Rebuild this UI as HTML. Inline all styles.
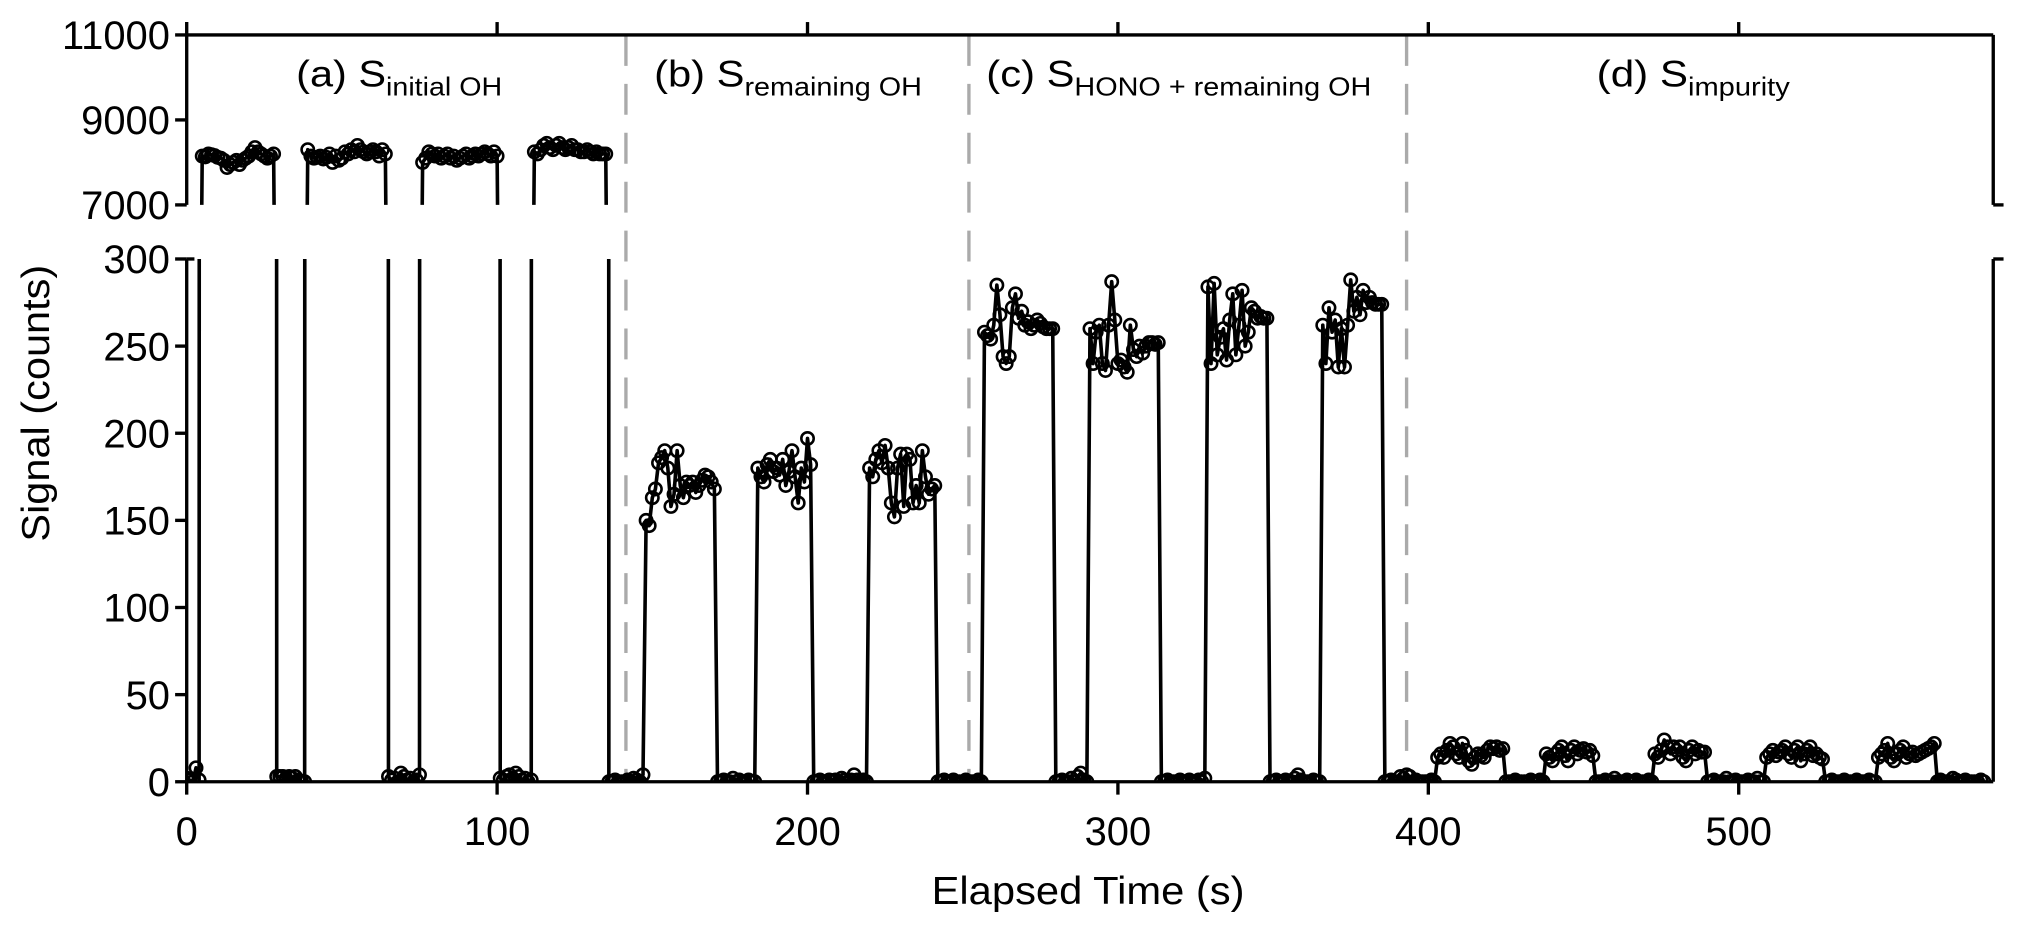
<!DOCTYPE html>
<html><head><meta charset="utf-8"><style>
html,body{margin:0;padding:0;background:#fff;}
svg{display:block;font-family:"Liberation Sans",Arial,sans-serif;}
</style></head><body>
<svg id="chart" width="2019" height="930" viewBox="0 0 1568 722" xmlns="http://www.w3.org/2000/svg">
<defs>
<clipPath id="clipTop"><rect x="145" y="27" width="1403" height="132"/></clipPath>
<clipPath id="clipBot"><rect x="145" y="201" width="1403" height="406"/></clipPath>
</defs>
<g id="dividers"></g>
<g id="seriesTop" clip-path="url(#clipTop)"></g>
<g id="seriesBot" clip-path="url(#clipBot)"></g>
<g id="axes" stroke="#000" stroke-width="2.6" fill="none"></g>
<g id="labels" font-size="31" fill="#000"></g>
<text x="845" y="702" font-size="30" text-anchor="middle" textLength="243" lengthAdjust="spacingAndGlyphs">Elapsed Time (s)</text>
<text transform="translate(38,313) rotate(-90)" font-size="30" text-anchor="middle" textLength="215" lengthAdjust="spacingAndGlyphs">Signal (counts)</text>
<text x="230" y="67" font-size="29" textLength="160" lengthAdjust="spacingAndGlyphs">(a) S<tspan font-size="20" dy="7">initial OH</tspan></text>
<text x="508" y="67" font-size="29" textLength="208" lengthAdjust="spacingAndGlyphs">(b) S<tspan font-size="20" dy="7">remaining OH</tspan></text>
<text x="766" y="67" font-size="29" textLength="299" lengthAdjust="spacingAndGlyphs">(c) S<tspan font-size="20" dy="7">HONO + remaining OH</tspan></text>
<text x="1240" y="67" font-size="29" textLength="150" lengthAdjust="spacingAndGlyphs">(d) S<tspan font-size="20" dy="7">impurity</tspan></text>
</svg>
<script>
// data: blocks of 1-second samples, each block starting at blockStarts[i]
const blockStarts = [0,5,29,39,65,76,101,112,136,148,171,184,202,220,242,257,280,291,314,329,349,366,386,403,425,438,454,473,490,509,528,545,564];
const blockValues = [
[2,1,0,8,1],
[8150,8130,8200,8180,8160,8120,8100,8050,7880,7950,8000,8050,7950,8050,8100,8150,8250,8350,8250,8200,8150,8100,8150,8200],
[3,3,3,2,3,2,3,1,0,0],
[8300,8150,8100,8120,8150,8080,8120,8200,8000,8150,8050,8100,8250,8200,8300,8250,8400,8300,8250,8200,8250,8300,8250,8150,8300,8200],
[3,1,2,0,5,3,1,2,0,1,4],
[8000,8100,8250,8200,8150,8200,8100,8150,8200,8100,8150,8050,8100,8150,8200,8100,8150,8200,8150,8200,8250,8200,8150,8250,8150],
[2,1,3,4,2,5,3,1,2,0,1],
[8250,8200,8300,8400,8450,8350,8300,8400,8450,8350,8300,8350,8400,8300,8300,8250,8250,8300,8250,8200,8250,8200,8200,8200],
[0,0,1,0,0,0,1,0,2,1,0,4],
[150,147,163,168,183,186,190,180,158,165,190,170,163,172,170,172,166,170,173,176,175,172,168],
[0,0,1,0,0,2,0,1,0,0,1,0,0],
[180,175,172,182,185,178,180,176,185,170,178,190,175,160,180,172,197,182],
[0,0,1,0,0,1,0,1,0,2,1,0,1,4,1,0,1,0],
[180,175,185,190,183,193,180,160,152,180,188,158,188,185,160,170,160,190,175,165,168,170],
[0,0,1,0,0,1,0,0,0,1,0,0,0,1,0],
[258,256,254,262,285,268,244,240,244,272,280,266,270,262,264,260,262,265,263,261,260,260,260],
[0,0,1,0,0,2,0,3,5,1,0],
[260,240,258,262,240,236,262,287,265,240,242,238,235,262,248,244,250,246,250,252,252,251,252],
[0,0,1,0,0,0,1,0,0,1,0,0,1,0,2],
[284,240,286,245,255,260,242,265,280,245,262,282,250,258,272,270,266,267,266,266],
[0,0,1,0,0,1,0,0,2,4,1,0,0,0,1,0,0],
[262,240,272,258,265,238,260,238,262,288,270,278,268,282,275,278,275,274,274,274],
[0,0,1,0,0,3,2,4,3,0,1,0,0,0,0,1,0],
[14,16,14,18,22,20,16,14,22,18,12,10,14,16,15,14,18,20,19,20,18,19],
[0,0,0,1,0,0,0,0,1,0,0,1,0],
[16,14,12,16,18,20,15,12,18,20,16,18,19,17,18,15],
[0,0,0,1,0,0,2,0,0,0,1,0,0,1,0,0,0,1,0],
[16,14,18,24,20,16,20,18,20,14,12,18,20,16,18,17,17],
[0,0,1,0,0,0,2,0,0,1,0,0,0,1,0,0,2,0,0],
[14,16,18,15,17,18,20,16,14,18,20,12,16,18,20,15,16,14,13],
[0,0,1,0,0,0,1,0,0,0,1,0,0,0,1,0,0],
[14,16,18,22,14,12,16,18,20,14,16,17,15,16,17,18,19,20,22],
[0,1,0,0,0,2,1,0,0,1,0,0,0,0,1,0]
];
const xTicks = [0,100,200,300,400,500];
const xTickLabels = ["0","100","200","300","400","500"];
const yTopTicks = [7000,9000,11000];
const yTopTickLabels = ["7000","9000","11000"];
const yBotTicks = [0,50,100,150,200,250,300];
const yBotTickLabels = ["0","50","100","150","200","250","300"];
const dividerTimes = [141.5,252,393];

const NS="http://www.w3.org/2000/svg";
const X0=145, X1=1548, TMAX=582;
const xs = t => X0 + (t/TMAX)*(X1-X0);
const yTop = v => 159 - (v-7000)/(11000-7000)*132;
const yBot = v => 607 - v/300*406;
function mk(tag, attrs, parent){const e=document.createElementNS(NS,tag);for(const k in attrs)e.setAttribute(k,attrs[k]);parent.appendChild(e);return e;}

const pts=[];
blockStarts.forEach((s,i)=>blockValues[i].forEach((v,j)=>pts.push([s+j,v])));

const divG=document.getElementById('dividers');
dividerTimes.forEach(t=>{
  const l=mk('line',{x1:xs(t),x2:xs(t),y1:27,y2:607,stroke:'#aaa','stroke-width':2.6,'stroke-dasharray':'24,14'},divG);
  
  
});

[['seriesTop',yTop],['seriesBot',yBot]].forEach(([id,yf])=>{
  const g=document.getElementById(id);
  const d=pts.map((p,i)=>(i?'L':'M')+xs(p[0]).toFixed(2)+','+yf(p[1]).toFixed(2)).join('');
  const path=mk('path',{d:d,fill:'none',stroke:'#000','stroke-width':2.8,'stroke-linejoin':'round'},g);
  
  
  pts.forEach(p=>{
    const c=mk('circle',{cx:xs(p[0]),cy:yf(p[1]),r:4.8,fill:'none',stroke:'#000','stroke-width':2.0},g);
    
    
  });
});

const ax=document.getElementById('axes');
function ln(x1,y1,x2,y2,name){const l=mk('line',{x1,y1,x2,y2},ax);}
ln(X0,27,X1,27,'top-frame');
ln(X0,17,X0,159,'top-left-axis');
ln(X1,27,X1,159,'top-right-axis');
ln(X1,159,X1+8,159,'top-right-tick');
ln(X0,201,X0,607,'left-axis');
ln(X1,201,X1,607,'right-axis');
ln(X1,201,X1+8,201,'right-tick');
ln(X0,201,X0+6,201,'left-inner-tick');
ln(X0,607,X1,607,'x-axis');
const lab=document.getElementById('labels');
function tx(x,y,s,anchor,name){const t=mk('text',{x,y,'text-anchor':anchor},lab);t.textContent=s;}
xTicks.forEach((t,i)=>{ln(xs(t),607,xs(t),617,'x-tick');tx(xs(t),656,xTickLabels[i],'middle','x-tick-label');
  if(t>0) ln(xs(t),17,xs(t),27,'top-tick');});
yTopTicks.forEach((v,i)=>{ln(X0-9,yTop(v),X0,yTop(v),'y-top-tick');tx(X0-13,yTop(v)+11,yTopTickLabels[i],'end','y-top-tick-label');});
yBotTicks.forEach((v,i)=>{ln(X0-9,yBot(v),X0,yBot(v),'y-tick');tx(X0-13,yBot(v)+11,yBotTickLabels[i],'end','y-tick-label');});
</script>
</body></html>
